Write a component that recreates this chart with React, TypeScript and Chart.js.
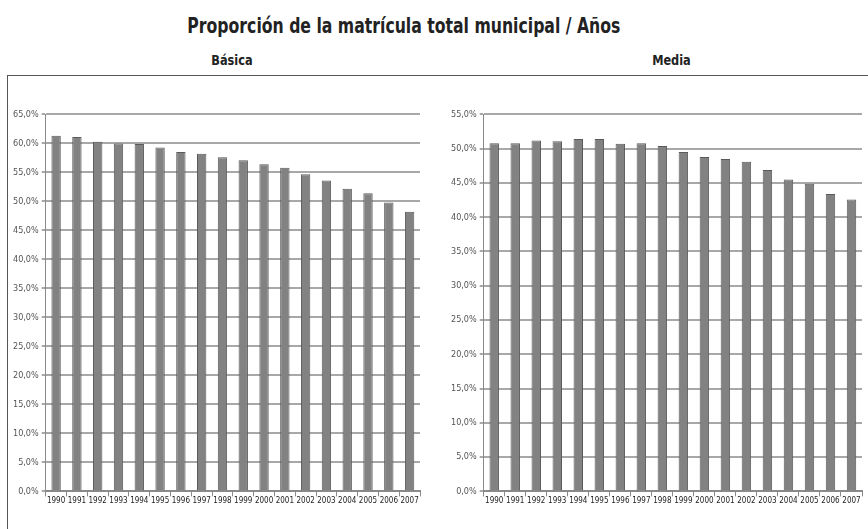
import React, { useEffect, useRef } from "react";
import { Chart, registerables } from "chart.js";

Chart.register(...registerables);

const years = ["1990","1991","1992","1993","1994","1995","1996","1997","1998","1999","2000","2001","2002","2003","2004","2005","2006","2007"];
const basicaValues = [61.3, 61.1, 60.3, 60.0, 59.9, 59.3, 58.5, 58.2, 57.6, 57.1, 56.4, 55.8, 54.7, 53.6, 52.2, 51.4, 49.8, 48.2];
const mediaValues = [50.8, 50.8, 51.2, 51.1, 51.4, 51.4, 50.7, 50.8, 50.4, 49.5, 48.8, 48.5, 48.1, 46.9, 45.5, 44.9, 43.4, 42.6];
const titleText = "Proporción de la matrícula total municipal / Años";
const basicaTitle = "Básica";
const mediaTitle = "Media";

const FONT = "'DejaVu Sans', sans-serif";

function BarPanel({ values, max, width, height }: { values: number[]; max: number; width: number; height: number }) {
  const ref = useRef<HTMLCanvasElement | null>(null);
  useEffect(() => {
    if (!ref.current) return;
    const yFont: any = { size: 9, family: FONT, weight: "condensed" };
    const xFont: any = { size: 8, family: FONT, weight: "condensed" };
    const chart = new Chart(ref.current, {
      type: "bar",
      data: {
        labels: years,
        datasets: [
          {
            data: values,
            backgroundColor: "#828282",
            borderColor: "#5a5a5a",
            borderWidth: 1,
            barPercentage: 0.45,
            categoryPercentage: 1,
          },
        ],
      },
      options: {
        animation: false,
        responsive: false,
        maintainAspectRatio: false,
        layout: { padding: { top: 0, right: 4, left: 0, bottom: 0 } },
        plugins: { legend: { display: false }, tooltip: { enabled: false } },
        scales: {
          x: {
            grid: { offset: true, drawOnChartArea: false, drawTicks: true, tickLength: 5, color: "#8a8a8a", lineWidth: 1 },
            border: { color: "#8a8a8a", width: 2 },
            ticks: { font: xFont, color: "#222", maxRotation: 0, autoSkip: false, padding: 0 },
          },
          y: {
            min: 0,
            max: max,
            ticks: {
              stepSize: 5,
              font: yFont,
              color: "#555",
              padding: 3,
              callback: (v: any) => Number(v).toFixed(1).replace(".", ",") + "%",
            },
            grid: { color: "#a8a8a8", lineWidth: 2, tickLength: 4 },
            border: { color: "#8a8a8a", width: 1 },
          },
        },
      },
    });
    return () => chart.destroy();
  }, [values, max]);
  return <canvas ref={ref} width={width} height={height} style={{ display: "block" }} />;
}

export default function App() {
  return (
    <div style={{ position: "fixed", left: 0, top: 0, width: 868, height: 529, overflow: "hidden", background: "#fff", fontFamily: FONT }}>
      <div style={{ position: "absolute", left: 0, top: 14, width: 808, textAlign: "center", fontSize: 21, fontWeight: "bold", color: "#222", fontStretch: "condensed" }}>
        <span style={{ display: "inline-block", transform: "scaleX(0.83)" }}>{titleText}</span>
      </div>
      <div style={{ position: "absolute", left: 132, top: 52, width: 200, textAlign: "center", fontSize: 14, fontWeight: "bold", color: "#222", fontStretch: "condensed" }}>
        <span style={{ display: "inline-block", transform: "scaleX(0.9)" }}>{basicaTitle}</span>
      </div>
      <div style={{ position: "absolute", left: 571, top: 52, width: 200, textAlign: "center", fontSize: 14, fontWeight: "bold", color: "#222", fontStretch: "condensed" }}>
        <span style={{ display: "inline-block", transform: "scaleX(0.9)" }}>{mediaTitle}</span>
      </div>
      <div style={{ position: "absolute", left: 7, top: 75, width: 900, height: 500, border: "1px solid #555", boxSizing: "border-box" }} />
      <div style={{ position: "absolute", left: 10, top: 106 }}>
        <BarPanel values={basicaValues} max={65} width={414} height={400} />
      </div>
      <div style={{ position: "absolute", left: 448, top: 106 }}>
        <BarPanel values={mediaValues} max={55} width={418} height={400} />
      </div>
    </div>
  );
}
